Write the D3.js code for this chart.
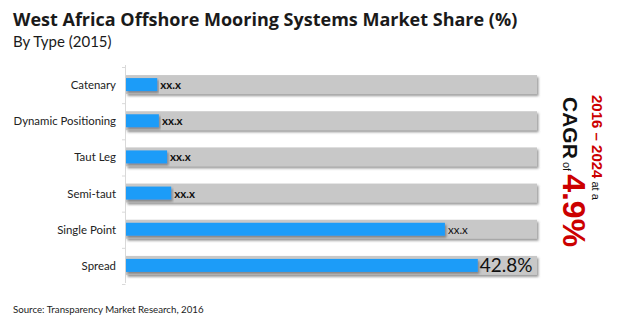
<!DOCTYPE html>
<html>
<head>
<meta charset="utf-8">
<script src="https://cdn.jsdelivr.net/npm/d3@7"></script>
<style>
  body { margin: 0; background: #fff; }
  svg { display: block; }
</style>
</head>
<body>
<svg width="620" height="323"></svg>
<script>
var types = ["Catenary", "Dynamic Positioning", "Taut Leg", "Semi-taut", "Single Point", "Spread"];
var shares = [3.8, 4.0, 5.0, 5.5, 38.8, 42.8];
var valueLabels = ["xx.x", "xx.x", "xx.x", "xx.x", "xx.x", "42.8%"];
var axisMax = 50;

var svg = d3.select("svg"),
    width = +svg.attr("width"),
    height = +svg.attr("height");

var x = d3.scaleLinear().domain([0, axisMax]).range([126, 537]);
var y = d3.scaleBand().domain(types).range([67, 284]);

// shadow for bars
var defs = svg.append("defs");
var f = defs.append("filter").attr("id", "shadow")
    .attr("x", "-5%").attr("y", "-40%").attr("width", "110%").attr("height", "200%");
f.append("feDropShadow").attr("dx", 1.5).attr("dy", 2).attr("stdDeviation", 1.2)
    .attr("flood-color", "#555").attr("flood-opacity", 0.6);

svg.append("text")
    .attr("x", 13).attr("y", 26)
    .style("font-family", "'Open Sans', sans-serif")
    .style("font-weight", "bold")
    .style("font-size", "18px")
    .style("fill", "#1a1a1a")
    .text("West Africa Offshore Mooring Systems Market Share (%)");

svg.append("text")
    .attr("x", 13).attr("y", 47)
    .style("font-family", "Lato, sans-serif")
    .style("font-size", "15px")
    .style("fill", "#1a1a1a")
    .text("By Type (2015)");

// y axis line + small ticks between rows
var axisG = svg.append("g");
axisG.append("line")
    .attr("x1", 125.5).attr("x2", 125.5)
    .attr("y1", 65).attr("y2", 283)
    .style("stroke", "#d9d9d9");
axisG.selectAll(".tk")
    .data(d3.range(types.length + 1))
    .enter().append("line")
    .attr("x1", 122).attr("x2", 125.5)
    .attr("y1", function(i) { return 67 + i * y.step() + 0.5; })
    .attr("y2", function(i) { return 67 + i * y.step() + 0.5; })
    .style("stroke", "#d9d9d9");

svg.append("g").selectAll("text")
    .data(types)
    .enter().append("text")
    .attr("x", 116)
    .attr("y", function(d) { return y(d) + y.bandwidth() / 2 + 4; })
    .attr("text-anchor", "end")
    .style("font-family", "Lato, sans-serif")
    .style("font-size", "11.4px")
    .style("fill", "#222")
    .text(function(d) { return d; });

var rows = svg.append("g").selectAll("g")
    .data(types)
    .enter().append("g");

rows.append("rect")
    .attr("x", x(0))
    .attr("y", function(d) { return y(d) + y.bandwidth() / 2 - 10; })
    .attr("width", x(axisMax) - x(0))
    .attr("height", 19)
    .style("fill", "#c8c8c8")
    .attr("filter", "url(#shadow)");

rows.append("rect")
    .attr("x", x(0))
    .attr("y", function(d) { return y(d) + y.bandwidth() / 2 - 7; })
    .attr("width", function(d, i) { return x(shares[i]) - x(0); })
    .attr("height", 13)
    .style("fill", "#1e9cf8")
    .attr("filter", "url(#shadow)");

rows.append("text")
    .attr("x", function(d, i) { return x(shares[i]) + (i == 5 ? 2 : 3); })
    .attr("y", function(d, i) { return y(d) + y.bandwidth() / 2 + (i == 5 ? 6 : 4); })
    .style("font-family", "Lato, sans-serif")
    .style("font-weight", function(d, i) { return i < 4 ? "bold" : "normal"; })
    .style("font-size", function(d, i) { return i == 5 ? "19px" : "11.5px"; })
    .style("fill", "#111")
    .text(function(d, i) { return valueLabels[i]; });

svg.append("text")
    .attr("x", 13).attr("y", 313)
    .style("font-family", "Lato, sans-serif")
    .style("font-size", "9.7px")
    .style("fill", "#222")
    .text("Source: Transparency Market Research, 2016");

// rotated CAGR callout
var cagr = svg.append("g").attr("transform", "rotate(90)");
var l1 = cagr.append("text")
    .attr("x", 95).attr("y", -592)
    .style("font-family", "'Liberation Sans', Arial, sans-serif");
l1.append("tspan").style("font-weight", "bold").style("font-size", "15px")
    .style("fill", "#cc0000").text("2016 \u2013 2024");
l1.append("tspan").style("font-size", "11px").style("fill", "#111").text(" at a");

var l2 = cagr.append("text")
    .attr("x", 97).attr("y", -563)
    .style("font-family", "'Liberation Sans', Arial, sans-serif");
l2.append("tspan").style("font-weight", "bold").style("font-size", "21px")
    .style("fill", "#111").text("CAGR");
l2.append("tspan").style("font-size", "11px").style("fill", "#111").text(" of ");
l2.append("tspan").style("font-weight", "bold").style("font-size", "32px")
    .style("fill", "#cc0000").text("4.9%");
</script>
</body>
</html>
